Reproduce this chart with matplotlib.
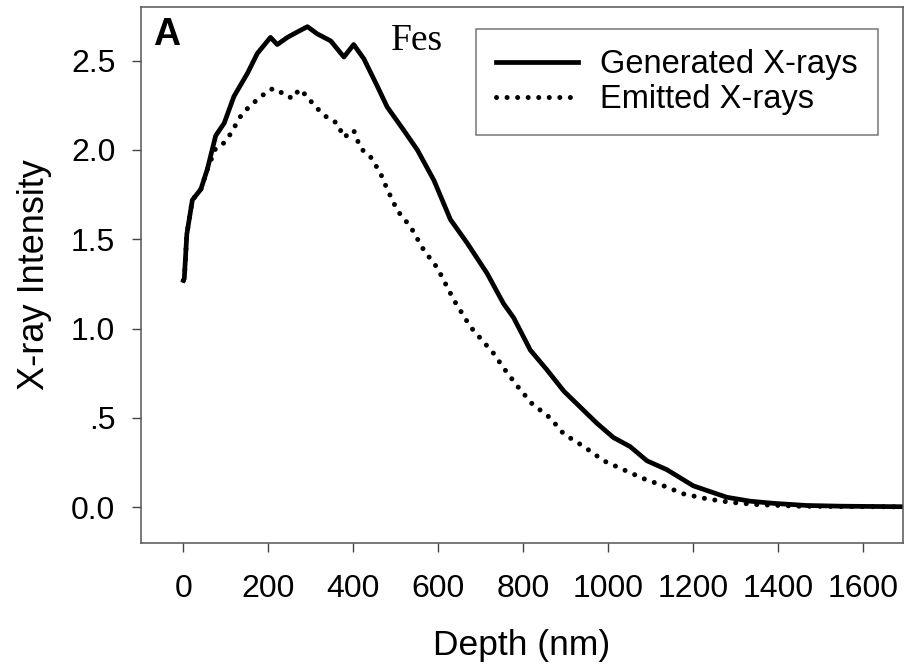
import numpy as np
from matplotlib import pyplot as plt

# depth (nm) and intensity
gen_depth = [0, 2, 8, 21, 41, 56, 76, 96, 119, 151, 174, 205, 221, 245, 268, 292,
             315, 347, 378, 401, 425, 456, 480, 519, 551, 590, 629, 668, 715, 754,
             778, 817, 856, 896, 935, 974, 1013, 1052, 1092, 1139, 1201, 1233, 1280,
             1335, 1390, 1468, 1550, 1700]
gen_int = [1.27, 1.28, 1.53, 1.72, 1.78, 1.89, 2.08, 2.15, 2.30, 2.43, 2.54, 2.63,
           2.59, 2.63, 2.66, 2.69, 2.65, 2.61, 2.52, 2.59, 2.51, 2.36, 2.24, 2.11,
           2.00, 1.83, 1.61, 1.48, 1.31, 1.14, 1.06, 0.88, 0.77, 0.65, 0.56, 0.47,
           0.39, 0.34, 0.26, 0.21, 0.12, 0.094, 0.056, 0.034, 0.022, 0.01, 0.006, 0.003]

emi_depth = [0, 2, 8, 21, 41, 56, 76, 96, 111, 135, 154, 178, 205, 221, 241, 260,
             272, 292, 307, 339, 362, 378, 401, 417, 441, 464, 480, 504, 535, 566,
             598, 637, 676, 731, 754, 786, 821, 864, 896, 943, 990, 1037, 1084, 1131,
             1178, 1233, 1288, 1351, 1450, 1700]
emi_int = [1.27, 1.28, 1.53, 1.72, 1.78, 1.89, 2.01, 2.04, 2.09, 2.19, 2.24, 2.29,
           2.34, 2.34, 2.30, 2.29, 2.34, 2.30, 2.25, 2.18, 2.15, 2.07, 2.11, 2.01,
           1.96, 1.87, 1.78, 1.66, 1.57, 1.44, 1.34, 1.16, 1.01, 0.86, 0.78, 0.68,
           0.58, 0.50, 0.41, 0.34, 0.26, 0.21, 0.16, 0.12, 0.075, 0.047, 0.028,
           0.015, 0.006, 0.002]

x_ticks = [0, 200, 400, 600, 800, 1000, 1200, 1400, 1600]
y_ticks = [0.0, 0.5, 1.0, 1.5, 2.0, 2.5]
y_ticklabels = ['0.0', '.5', '1.0', '1.5', '2.0', '2.5']

plt.rcParams['font.family'] = 'Liberation Sans'
fig = plt.figure(figsize=(9.08, 6.71), dpi=100)
ax = fig.add_axes([141/908, 1-543/671, (903-141)/908, (543-7)/671])

ax.plot(gen_depth, gen_int, color='black', lw=3.4, solid_joinstyle='round',
        label='Generated X-rays')
ax.plot(emi_depth, emi_int, color='black', lw=3.6, linestyle=(0, (0.01, 2.1)),
        dash_capstyle='round', label='Emitted X-rays')

ax.set_xlim(-100, 1695)
ax.set_ylim(-0.2, 2.8)
ax.set_xticks(x_ticks)
ax.set_yticks(y_ticks, y_ticklabels)
ax.tick_params(labelsize=23, length=6.5, width=1, color='#444444', direction='out')
ax.tick_params(axis='x', pad=15.5)
ax.tick_params(axis='y', pad=12)
for s in ax.spines.values():
    s.set_color('#555555')
    s.set_linewidth(1.1)

ax.set_xlabel('Depth (nm)', fontsize=25.5)
ax.set_ylabel('X-ray Intensity', fontsize=26)
ax.xaxis.set_label_coords(0.5, -0.16)
ax.yaxis.set_label_coords(-0.117, 0.5)

fig.text(153/908, 1-45/671, 'A', fontsize=27, fontweight='bold', va='baseline')
fig.text(391/908, 1-50/671, 'Fes', fontsize=27, family='Liberation Serif', va='baseline')

leg = ax.legend(loc='upper right', bbox_to_anchor=(878/908, 1-29/671),
                bbox_transform=fig.transFigure, borderaxespad=0, fontsize=23.5,
                fancybox=False, edgecolor='#555555', handlelength=2.5,
                handletextpad=0.68, labelspacing=0.12, borderpad=0.62)
leg.get_frame().set_linewidth(1.1)

fig.savefig('out.png', dpi=100)
